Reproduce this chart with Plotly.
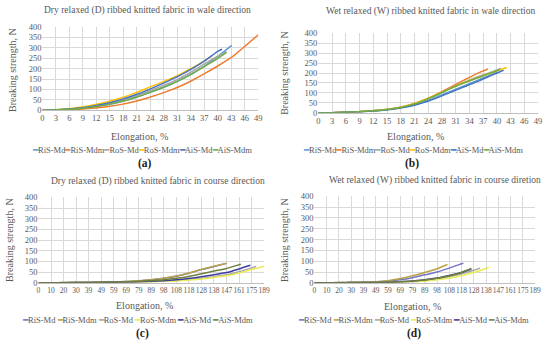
import plotly.graph_objects as go
import numpy as np

# ---------------- data ----------------
series_names = ["RiS-Md", "RiS-Mdm", "RoS-Md", "RoS-Mdm", "AiS-Md", "AiS-Mdm"]
colors_wale = ["#5B9BD5", "#ED7D31", "#A5A5A5", "#FFC000", "#4472C4", "#70AD47"]
colors_course = ["#7474C8", "#B9A245", "#A5A5A5", "#EBEB5A", "#3D3D9E", "#6E7F3C"]

wale_tick_labels = ["0", "3", "6", "9", "12", "15", "18", "21", "24", "28", "31", "34", "37", "40", "43", "46", "49"]
course_tick_labels = ["0", "10", "20", "30", "39", "49", "59", "69", "79", "89", "98", "108", "118", "128", "138", "147", "161", "175", "189"]
y_tick_values = [0, 50, 100, 150, 200, 250, 300, 350, 400]

# (a) Dry relaxed, wale direction
a_RiS_Md_x = [0, 3, 6, 9, 12, 15, 18, 21, 24, 28, 31, 34, 37, 40, 43]
a_RiS_Md_y = [0, 1, 4, 9, 16, 27, 42, 60, 82, 115, 143, 177, 215, 262, 312]
a_RiS_Mdm_x = [0, 3, 6, 9, 12, 15, 18, 21, 24, 28, 31, 34, 37, 40, 43, 46, 49]
a_RiS_Mdm_y = [0, 1, 3, 6, 11, 18, 28, 42, 60, 88, 113, 143, 178, 215, 255, 308, 363]
a_RoS_Md_x = [0, 3, 6, 9, 12, 15, 18, 21, 24, 28, 31, 34, 37, 40, 41.8]
a_RoS_Md_y = [0, 1, 5, 11, 19, 31, 47, 66, 90, 124, 152, 187, 225, 262, 282]
a_RoS_Mdm_x = [0, 3, 6, 9, 12, 15, 18, 21, 24, 28, 31, 34, 37, 38.6]
a_RoS_Mdm_y = [0, 2, 7, 15, 27, 42, 60, 82, 108, 142, 170, 203, 240, 262]
a_AiS_Md_x = [0, 3, 6, 9, 12, 15, 18, 21, 24, 28, 31, 34, 37, 40, 40.8]
a_AiS_Md_y = [0, 2, 6, 12, 22, 35, 52, 73, 98, 135, 165, 200, 240, 285, 293]
a_AiS_Mdm_x = [0, 3, 6, 9, 12, 15, 18, 21, 24, 28, 31, 34, 37, 40, 41.8]
a_AiS_Mdm_y = [0, 1, 4, 9, 17, 28, 42, 60, 82, 114, 142, 175, 213, 252, 278]

# (b) Wet relaxed, wale direction
b_RiS_Md_x = [0, 3, 6, 9, 12, 15, 18, 21, 24, 27, 30, 33, 36, 39, 40]
b_RiS_Md_y = [0, 1, 3, 6, 10, 16, 25, 38, 58, 85, 113, 140, 168, 195, 205]
b_RiS_Mdm_x = [0, 3, 6, 9, 12, 15, 18, 21, 24, 27, 30, 33, 36, 37.8]
b_RiS_Mdm_y = [0, 1, 3, 6, 10, 17, 27, 43, 68, 100, 135, 170, 203, 220]
b_RoS_Md_x = [0, 3, 6, 9, 12, 15, 18, 21, 24, 27, 30, 33, 36, 39, 40.7]
b_RoS_Md_y = [0, 1, 3, 6, 10, 16, 26, 42, 65, 95, 128, 158, 185, 208, 224]
b_RoS_Mdm_x = [0, 3, 6, 9, 12, 15, 18, 21, 24, 27, 30, 33, 36, 39, 42]
b_RoS_Mdm_y = [0, 1, 3, 6, 10, 17, 27, 45, 68, 98, 128, 155, 180, 205, 228]
b_AiS_Md_x = [0, 3, 6, 9, 12, 15, 18, 21, 24, 27, 30, 33, 36, 39, 41.3]
b_AiS_Md_y = [0, 1, 3, 5, 9, 14, 23, 36, 55, 80, 108, 135, 162, 192, 214]
b_AiS_Mdm_x = [0, 3, 6, 9, 12, 15, 18, 21, 24, 27, 30, 33, 36, 39, 40.4]
b_AiS_Mdm_y = [0, 1, 3, 6, 10, 16, 26, 42, 66, 96, 128, 155, 180, 204, 216]

# (c) Dry relaxed, course direction
c_RiS_Md_x = [0, 10, 20, 30, 39, 49, 59, 69, 79, 89, 98, 108, 118, 128, 138, 147]
c_RiS_Md_y = [0, 0.5, 1, 1.5, 2, 3, 4, 6, 9, 14, 21, 31, 45, 62, 76, 91]
c_RiS_Mdm_x = [0, 10, 20, 30, 39, 49, 59, 69, 79, 89, 98, 108, 118, 128, 138, 147]
c_RiS_Mdm_y = [0, 0.5, 1, 1.5, 2, 3, 4, 6, 10, 15, 22, 32, 46, 63, 78, 92]
c_RoS_Md_x = [0, 10, 20, 30, 39, 49, 59, 69, 79, 89, 98, 108, 118, 128, 138, 147, 161, 175, 180]
c_RoS_Md_y = [0, 0.3, 0.6, 1, 1.5, 2, 3, 4, 5, 6, 8, 11, 15, 21, 29, 38, 52, 70, 77]
c_RoS_Mdm_x = [0, 10, 20, 30, 39, 49, 59, 69, 79, 89, 98, 108, 118, 128, 138, 147, 161, 175, 189]
c_RoS_Mdm_y = [0, 0.3, 0.6, 1, 1.5, 2, 3, 3.5, 4.5, 5.5, 7, 9, 13, 18, 25, 33, 46, 62, 78]
c_AiS_Md_x = [0, 10, 20, 30, 39, 49, 59, 69, 79, 89, 98, 108, 118, 128, 138, 147, 161, 173.6]
c_AiS_Md_y = [0, 0.3, 0.6, 1, 1.5, 2, 3, 4, 5, 7, 10, 14, 20, 28, 38, 48, 65, 82]
c_AiS_Mdm_x = [0, 10, 20, 30, 39, 49, 59, 69, 79, 89, 98, 108, 118, 128, 138, 147, 161, 163]
c_AiS_Mdm_y = [0, 0.4, 0.8, 1.2, 2, 3, 4, 5, 7, 10, 14, 21, 30, 42, 55, 67, 85, 87]

# (d) Wet relaxed, course direction
d_RiS_Md_x = [0, 10, 20, 30, 39, 49, 59, 69, 79, 89, 98, 108, 118, 119.5]
d_RiS_Md_y = [0, 0.5, 1, 1.5, 2.5, 4, 8, 14, 24, 37, 50, 68, 88, 91]
d_RiS_Mdm_x = [0, 10, 20, 30, 39, 49, 59, 69, 79, 89, 98, 106.5]
d_RiS_Mdm_y = [0, 0.5, 1, 1.5, 2.5, 5, 10, 20, 33, 48, 65, 85]
d_RoS_Md_x = [0, 10, 20, 30, 39, 49, 59, 69, 79, 89, 98, 108, 118, 128, 133]
d_RoS_Md_y = [0, 0.3, 0.6, 1, 1.5, 2, 3, 4, 6, 10, 16, 28, 42, 58, 68]
d_RoS_Mdm_x = [0, 10, 20, 30, 39, 49, 59, 69, 79, 89, 98, 108, 118, 128, 138, 140]
d_RoS_Mdm_y = [0, 0.3, 0.6, 1, 1.5, 2, 3, 4, 6, 9, 14, 22, 33, 48, 66, 72]
d_AiS_Md_x = [0, 10, 20, 30, 39, 49, 59, 69, 79, 89, 98, 108, 118, 126]
d_AiS_Md_y = [0, 0.3, 0.6, 1, 1.5, 2, 3, 5, 8, 14, 22, 34, 48, 64]
d_AiS_Mdm_x = [0, 10, 20, 30, 39, 49, 59, 69, 79, 89, 98, 108, 118, 126]
d_AiS_Mdm_y = [0, 0.3, 0.6, 1, 1.5, 2, 3, 5, 8, 13, 21, 33, 48, 66]

panel_titles = [
    "Dry relaxed (D) ribbed knitted fabric in wale direction",
    "Wet relaxed (W) ribbed knitted fabric in wale direction",
    "Dry relaxed (D) ribbed knitted fabric in course direction",
    "Wet relaxed (W) ribbed knitted fabric in course diretion",
]
panel_letters = ["(a)", "(b)", "(c)", "(d)"]
x_title = "Elongation, %"
y_title = "Breaking strength, N"

panels = [
    [(a_RiS_Md_x, a_RiS_Md_y), (a_RiS_Mdm_x, a_RiS_Mdm_y), (a_RoS_Md_x, a_RoS_Md_y),
     (a_RoS_Mdm_x, a_RoS_Mdm_y), (a_AiS_Md_x, a_AiS_Md_y), (a_AiS_Mdm_x, a_AiS_Mdm_y)],
    [(b_RiS_Md_x, b_RiS_Md_y), (b_RiS_Mdm_x, b_RiS_Mdm_y), (b_RoS_Md_x, b_RoS_Md_y),
     (b_RoS_Mdm_x, b_RoS_Mdm_y), (b_AiS_Md_x, b_AiS_Md_y), (b_AiS_Mdm_x, b_AiS_Mdm_y)],
    [(c_RiS_Md_x, c_RiS_Md_y), (c_RiS_Mdm_x, c_RiS_Mdm_y), (c_RoS_Md_x, c_RoS_Md_y),
     (c_RoS_Mdm_x, c_RoS_Mdm_y), (c_AiS_Md_x, c_AiS_Md_y), (c_AiS_Mdm_x, c_AiS_Mdm_y)],
    [(d_RiS_Md_x, d_RiS_Md_y), (d_RiS_Mdm_x, d_RiS_Mdm_y), (d_RoS_Md_x, d_RoS_Md_y),
     (d_RoS_Mdm_x, d_RoS_Mdm_y), (d_AiS_Md_x, d_AiS_Md_y), (d_AiS_Mdm_x, d_AiS_Mdm_y)],
]

# ---------------- layout geometry (pixels) ----------------
W, H = 550, 350
FONT = "Liberation Serif"
TXT = "#595959"
GRID = "#D9D9D9"

plot_boxes = [  # left, right, top, bottom in px
    (41, 260, 22.7, 108.3),
    (321, 544, 29, 111),
    (37, 266, 198, 286),
    (317, 541, 197, 286),
]
title_pos = [(148, 6), (435, 7), (158, 182), (439, 181)]
ytitle_pos = [(10, 67), (287, 70), (7, 242), (286, 242)]
xtitle_pos = [(140, 135), (420, 135), (145, 309), (417, 310)]
legend_pos = [(142, 149), (417, 149), (138, 324), (418, 324)]
letter_pos = [(145, 163), (416, 163), (143, 338), (418, 338)]

def px_x(v):
    return v / W

def px_y(v):
    return 1 - v / H

fig = go.Figure()
annotations = []

for p in range(4):
    ax = "" if p == 0 else str(p + 1)
    is_course = p >= 2
    colors = colors_course if is_course else colors_wale
    labels = course_tick_labels if is_course else wale_tick_labels
    label_vals = [float(v) for v in labels]
    for k, (xs, ys) in enumerate(panels[p]):
        xs = np.asarray(xs, dtype=float)
        if is_course:
            # category-style axis: equally spaced labels
            xpos = np.interp(xs, label_vals, np.arange(len(labels)))
        else:
            xpos = xs
        fig.add_trace(go.Scatter(
            x=xpos, y=ys, mode="lines", name=series_names[k],
            line=dict(color=colors[k], width=1.5, shape="spline", smoothing=0.6),
            xaxis="x" + ax, yaxis="y" + ax, showlegend=False,
        ))
    l, r, t, b = plot_boxes[p]
    if is_course:
        tickvals = list(range(len(labels)))
        xrange = [0, len(labels) - 1]
    else:
        tickvals = [49 * i / 16 for i in range(len(labels))]
        xrange = [0, 49]
    fig.update_layout(**{
        "xaxis" + ax: dict(
            domain=[px_x(l), px_x(r)], anchor="y" + ax, range=xrange,
            tickmode="array", tickvals=tickvals, ticktext=labels, tickangle=0,
            showgrid=True, gridcolor=GRID, gridwidth=0.8,
            showline=True, linecolor="#BFBFBF", linewidth=0.8,
            zeroline=False, ticks="", ticklen=0,
            tickfont=dict(family=FONT, size=7.5 if is_course else 8.5, color=TXT),
        ),
        "yaxis" + ax: dict(
            domain=[px_y(b), px_y(t)], anchor="x" + ax, range=[0, 400],
            tickmode="array", tickvals=y_tick_values,
            showgrid=True, gridcolor=GRID, gridwidth=0.8,
            zeroline=False, showline=False, ticks="",
            tickfont=dict(family=FONT, size=8.5, color=TXT),
        ),
    })
    annotations.append(dict(text=panel_titles[p], x=px_x(title_pos[p][0]), y=px_y(title_pos[p][1]),
                            font=dict(family=FONT, size=9.5, color=TXT)))
    annotations.append(dict(text=y_title, x=px_x(ytitle_pos[p][0]), y=px_y(ytitle_pos[p][1]),
                            textangle=-90, font=dict(family=FONT, size=10, color=TXT)))
    annotations.append(dict(text=x_title, x=px_x(xtitle_pos[p][0]), y=px_y(xtitle_pos[p][1]),
                            font=dict(family=FONT, size=10, color=TXT)))
    sep = "" if not is_course else " "
    leg = sep.join(
        "<span style='color:%s'>━</span>%s" % (colors[k], series_names[k])
        for k in range(len(series_names))
    )
    annotations.append(dict(text=leg, x=px_x(legend_pos[p][0]), y=px_y(legend_pos[p][1]),
                            font=dict(family=FONT, size=8.5, color=TXT)))
    annotations.append(dict(text="<b>" + panel_letters[p] + "</b>", x=px_x(letter_pos[p][0]),
                            y=px_y(letter_pos[p][1]),
                            font=dict(family=FONT, size=11.5, color="#222222")))

for a in annotations:
    a.update(xref="paper", yref="paper", showarrow=False, xanchor="center", yanchor="middle")

fig.update_layout(
    width=W, height=H, margin=dict(l=0, r=0, t=0, b=0),
    paper_bgcolor="white", plot_bgcolor="white",
    annotations=annotations, showlegend=False,
)

fig.write_html(
    "out.html",
    config={"displayModeBar": False},
    post_script="document.body.style.margin='0px';document.body.style.padding='0px';",
)
